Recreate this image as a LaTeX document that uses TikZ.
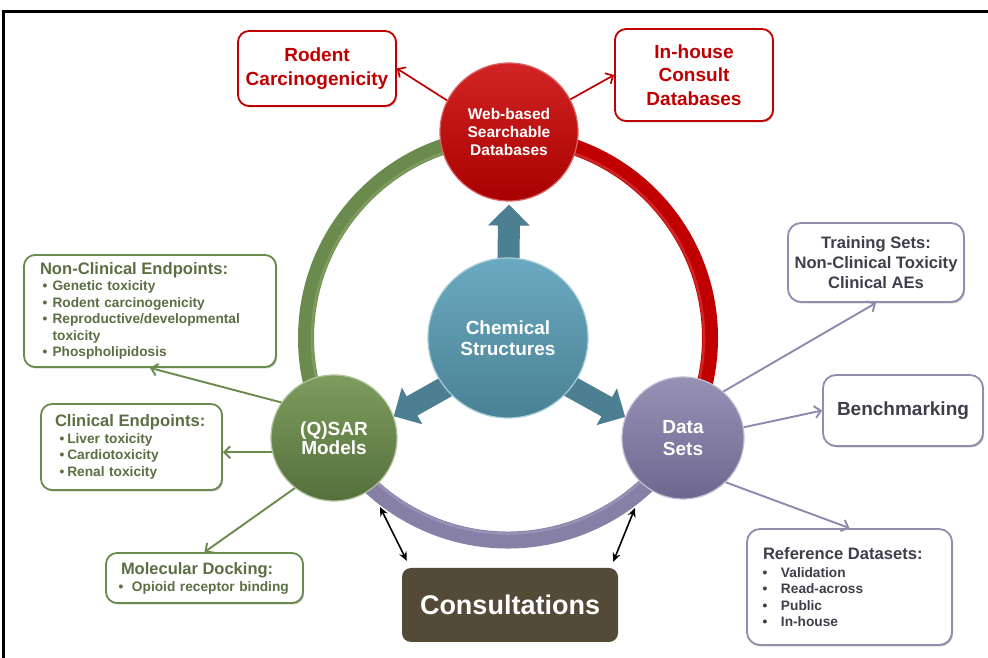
\documentclass[tikz,border=0pt]{standalone}
\usepackage{fontspec}
\setmainfont{Liberation Sans}
\usetikzlibrary{calc,arrows.meta,shadows}
\pgfdeclarelayer{background}
\pgfsetlayers{background,main}
\definecolor{cred}{HTML}{C00000}
\definecolor{credlt}{HTML}{D22424}
\definecolor{credd}{HTML}{A80000}
\definecolor{ctealt}{HTML}{6AAAC0}
\definecolor{ctealb}{HTML}{4A8194}
\definecolor{carrow}{HTML}{4B7F91}
\definecolor{cgreen}{HTML}{6B8A4E}
\definecolor{cgreent}{HTML}{7E9C5E}
\definecolor{cgreenb}{HTML}{55703C}
\definecolor{cgreentext}{HTML}{5A6F43}
\definecolor{cpurple}{HTML}{8680A6}
\definecolor{cpurplet}{HTML}{9891B6}
\definecolor{cpurpleb}{HTML}{6E6890}
\definecolor{cpurpleline}{HTML}{8E89AE}
\definecolor{cgraytext}{HTML}{3F3F4C}
\definecolor{cbrown}{HTML}{534A38}
\newcommand\bitem[3]{\hspace*{#1}\makebox[#2][l]{\textbullet}#3}
\newcommand\blockarrow[2]{%
  \coordinate (ba@S) at (#1);
  \coordinate (ba@E) at (#2);
  \coordinate (ba@H) at ($(ba@E)!21pt!(ba@S)$);
  \fill[carrow] ($(ba@S)!11pt!90:(ba@E)$) -- ($(ba@H)!11pt!-90:(ba@S)$)
    -- ($(ba@H)!21pt!-90:(ba@S)$) -- (ba@E) -- ($(ba@H)!21pt!90:(ba@S)$)
    -- ($(ba@H)!11pt!90:(ba@S)$) -- ($(ba@S)!11pt!-90:(ba@E)$) -- cycle;}
\begin{document}
\begin{tikzpicture}[x=1pt,y=1pt,
  ball/.style={circle, inner sep=0pt, align=center, text=white,
    font=\bfseries\fontsize{19}{20.5}\selectfont},
  shadowed/.style={drop shadow={shadow xshift=1.2pt, shadow yshift=-1.5pt, opacity=0.25, fill=black}},
  redbox/.style={shadowed, draw=cred, line width=1.8pt, rounded corners=11pt, fill=white,
    text=cred, font=\bfseries\fontsize{19}{24}\selectfont, align=center, inner sep=0pt},
  greenbox/.style={shadowed, draw=cgreen, line width=1.8pt, rounded corners=11pt, fill=white,
    text=cgreentext, font=\bfseries\fontsize{13.7}{16.5}\selectfont, align=left, inner sep=0pt},
  purplebox/.style={shadowed, draw=cpurple!90, line width=1.8pt, rounded corners=13pt, fill=white,
    text=cgraytext, font=\bfseries\fontsize{16.6}{20}\selectfont, inner sep=0pt},
  redline/.style={draw=cred, line width=1.7pt, -{Straight Barb[length=6pt,width=12pt]}},
  greenline/.style={draw=cgreen, line width=1.9pt, -{Straight Barb[length=6pt,width=12pt]}},
  purpleline/.style={draw=cpurpleline, line width=1.9pt, -{Straight Barb[length=6pt,width=12pt]}},
  dbl/.style={black, line width=1.6pt, {Stealth[length=9pt,width=8pt]}-{Stealth[length=9pt,width=8pt]}}
]
\useasboundingbox (0,0) rectangle (988,658);

% centre and satellites
\node[ball, minimum size=138pt, top color=credlt, bottom color=credd, draw=cred!60!white, line width=1.2pt,
  font=\bfseries\fontsize{15.5}{18}\selectfont] (web) at (509,526) {Web-based\\Searchable\\Databases};
\node[ball, minimum size=160pt, top color=ctealt, bottom color=ctealb, draw=ctealt!60!white, line width=1.2pt] (chem) at (508,320) {Chemical\\Structures};
\node[ball, minimum size=126pt, top color=cgreent, bottom color=cgreenb, draw=cgreent!60!white, line width=1.2pt,
  font=\bfseries\fontsize{19}{19.5}\selectfont] (qsar) at (334,220) {(Q)SAR\\Models};
\node[ball, minimum size=122pt, top color=cpurplet, bottom color=cpurpleb, draw=cpurplet!60!white, line width=1.2pt,
  font=\bfseries\fontsize{19}{22}\selectfont] (data) at (683,220) {Data\\Sets};

% boxes
\node[redbox, minimum width=158pt, minimum height=75pt] (rodent) at (317,589.5) {Rodent\\Carcinogenicity};
\node[redbox, minimum width=158pt, minimum height=92pt, font=\bfseries\fontsize{19}{23.5}\selectfont] (inhouse) at (694,583) {In-house\\Consult\\Databases};

\node[greenbox, text width=252pt, minimum height=112pt] (nonclin) at (150,347) {%
\hspace*{16pt}{\fontsize{16.6}{16.5}\selectfont Non-Clinical Endpoints:}\\
\bitem{18.6pt}{10pt}{Genetic toxicity}\\
\bitem{18.6pt}{10pt}{Rodent carcinogenicity}\\
\bitem{18.6pt}{10pt}{Reproductive/developmental}\\
\hspace*{28.6pt}toxicity\\
\bitem{18.6pt}{10pt}{Phospholipidosis}};

\node[greenbox, text width=181pt, minimum height=86pt, font=\bfseries\fontsize{13.7}{16.8}\selectfont] (clin) at (131.5,211) {%
\hspace*{14pt}{\fontsize{16.6}{16.8}\selectfont Clinical Endpoints:}\\
\bitem{18.6pt}{7.7pt}{Liver toxicity}\\
\bitem{18.6pt}{7.7pt}{Cardiotoxicity}\\
\bitem{18.6pt}{7.7pt}{Renal toxicity}};

\node[greenbox, text width=197pt, minimum height=50pt, font=\bfseries\fontsize{13.7}{17}\selectfont] (mol) at (204.5,80) {%
\hspace*{15pt}{\fontsize{16.5}{17}\selectfont Molecular Docking:}\\
\bitem{12.6pt}{13.4pt}{Opioid receptor binding}};

\node[purplebox, minimum width=176pt, minimum height=79pt, align=center] (train) at (876,395.5) {Training Sets:\\Non-Clinical Toxicity\\Clinical AEs};
\node[purplebox, minimum width=160pt, minimum height=71pt, font=\bfseries\fontsize{19}{22}\selectfont] (bench) at (903,247.5) {Benchmarking};
\node[purplebox, text width=205pt, minimum height=116pt, align=left, font=\bfseries\fontsize{13.7}{16.5}\selectfont] (ref) at (849.5,71) {%
\hspace*{16pt}{\fontsize{16.6}{16.5}\selectfont Reference Datasets:}\\[1.5pt]
\bitem{15.6pt}{18.4pt}{Validation}\\
\bitem{15.6pt}{18.4pt}{Read-across}\\
\bitem{15.6pt}{18.4pt}{Public}\\
\bitem{15.6pt}{18.4pt}{In-house}};

\node[fill=cbrown, rounded corners=9pt, minimum width=216pt, minimum height=74pt, inner sep=0pt,
  text=white, font=\bfseries\fontsize{27}{30}\selectfont] (cons) at (510,53) {Consultations};

% background: ring and block arrows
\begin{pgfonlayer}{background}
\fill[white] (0,0) rectangle (988,658);
\draw[draw=cgreen, line width=16pt] ($(chem.center)+(90:202)$) arc[start angle=90,end angle=210,radius=202];
\draw[draw=cgreent, line width=2.5pt] ($(chem.center)+(90:196)$) arc[start angle=90,end angle=210,radius=196];
\draw[draw=cred, line width=16pt] ($(chem.center)+(90:202)$) arc[start angle=90,end angle=-30,radius=202];
\draw[draw=credlt, line width=2.5pt] ($(chem.center)+(90:196)$) arc[start angle=90,end angle=-30,radius=196];
\draw[draw=cpurple, line width=17pt] ($(chem.center)+(-30:202)$) arc[start angle=-30,end angle=-150,radius=202];
\draw[draw=cpurplet, line width=2.5pt] ($(chem.center)+(-30:195.5)$) arc[start angle=-30,end angle=-150,radius=195.5];
\blockarrow{chem.center}{$(web.south)+(0,-3)$}
\blockarrow{$(chem.center)+(0,-14)$}{qsar.20}
\blockarrow{$(chem.center)+(0,-14)$}{data.160}
\end{pgfonlayer}

% connectors
\draw[redline] (web.153) -- (rodent.east);
\draw[redline] (web.28) -- (inhouse.west);
\draw[greenline] (qsar.146) -- (nonclin.south);
\draw[greenline] (qsar.193) -- (qsar.193 -| clin.east);
\draw[greenline] (qsar.232) -- (mol.north);
\draw[purpleline] (data.49) -- (train.south);
\draw[purpleline] (data.10) -- (bench.west);
\draw[purpleline] (data.314) -- (ref.north);

\coordinate (consL) at (380,151);
\coordinate (consR) at (635,150);
\draw[dbl] (consL) -- ($(cons.north west)+(5,7)$);
\draw[dbl] (consR) -- ($(cons.north east)+(-5,6)$);

% frame
\draw[line width=2.4pt] (3.5,0) -- (3.5,646.5) -- (988,646.5);
\end{tikzpicture}
\end{document}
